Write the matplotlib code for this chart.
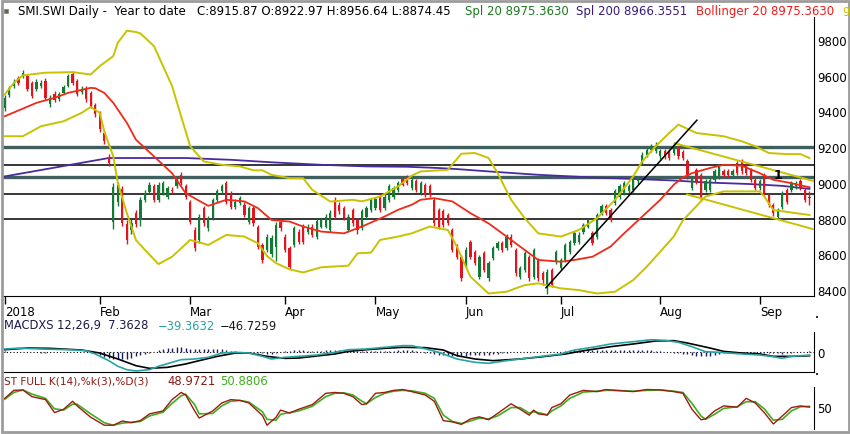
import numpy as np
import matplotlib
matplotlib.use('Agg')
from matplotlib import pyplot as plt
from matplotlib.patches import Rectangle

# ---- data (trading-day index 0 = 3 Jan 2018) ----
opens = [
    9420, 9490, 9545, 9588, 9598, 9600, 9558, 9528, 9540, 9570,
    9440, 9500, 9470, 9505, 9545, 9612, 9570, 9508, 9532, 9504,
    9436, 9390, 9280, 9140, 8780, 8890, 8968, 8772, 8735, 8830,
    8790, 8905, 8950, 8983, 8905, 8942, 8923, 8962, 8980, 9045,
    8980, 8895, 8736, 8680, 8858, 8745, 8802, 8905, 8952, 8998,
    8942, 8867, 8886, 8877, 8783, 8858, 8755, 8652, 8624, 8600,
    8640, 8783, 8699, 8633, 8652, 8727, 8755, 8727, 8755, 8699,
    8755, 8755, 8736, 8905, 8877, 8858, 8736, 8848, 8792, 8745,
    8811, 8848, 8858, 8923, 8858, 8905, 8923, 8960, 9022, 9030,
    8970, 9008, 8942, 8989, 8983, 8905, 8848, 8840, 8820, 8736,
    8643, 8586, 8540, 8670, 8614, 8474, 8605, 8465, 8577, 8633,
    8661, 8633, 8699, 8624, 8474, 8512, 8586, 8474, 8567, 8493,
    8418, 8510, 8558, 8521, 8568, 8614, 8661, 8670, 8727, 8755,
    8717, 8699, 8833, 8870, 8848, 8886, 8923, 8942, 8952, 8961,
    9008, 9111, 9158, 9186, 9180, 9148, 9176, 9176, 9167, 9195,
    9170, 9120, 8970, 9073, 9045, 8960, 8960, 9017, 9036, 9064,
    9064, 9045, 9111, 9120, 9092, 9073, 9017, 8970, 9045, 8933,
    8877, 8811, 8867, 8961, 8961, 8980, 9008, 8961, 8923]
closes = [
    9475, 9530, 9565, 9560, 9618, 9525, 9488, 9565, 9562, 9478,
    9475, 9466, 9495, 9538, 9597, 9562, 9497, 9526, 9468, 9432,
    9384, 9300, 9233, 9112, 8978, 8988, 8775, 8682, 8775, 8770,
    8905, 8942, 8990, 8905, 8990, 9000, 8970, 8955, 9026, 9000,
    8923, 8783, 8633, 8811, 8773, 8802, 8905, 8952, 8980, 8895,
    8867, 8895, 8914, 8820, 8858, 8773, 8642, 8567, 8699, 8690,
    8765, 8745, 8624, 8530, 8745, 8670, 8670, 8755, 8708, 8787,
    8792, 8811, 8830, 8811, 8840, 8802, 8811, 8773, 8736, 8840,
    8858, 8905, 8910, 8848, 8923, 8983, 8970, 8998, 8990, 9000,
    9017, 8961, 8998, 8933, 8933, 8773, 8755, 8765, 8773, 8624,
    8586, 8465, 8624, 8586, 8549, 8586, 8511, 8549, 8633, 8661,
    8624, 8699, 8652, 8493, 8521, 8605, 8465, 8624, 8465, 8455,
    8502, 8430, 8614, 8568, 8652, 8670, 8717, 8710, 8764, 8792,
    8661, 8820, 8870, 8830, 8792, 8952, 8980, 8998, 8980, 9026,
    9026, 9158, 9186, 9208, 9214, 9176, 9148, 9138, 9214, 9148,
    9138, 9036, 9026, 9008, 8914, 9008, 9017, 9064, 9092, 9045,
    9045, 9064, 9054, 9064, 9054, 9017, 8970, 9008, 8942, 8877,
    8830, 8848, 8942, 8895, 8998, 8998, 8970, 8905, 8916]
highs = [
    9490, 9545, 9580, 9600, 9630, 9610, 9570, 9580, 9575, 9585,
    9490, 9512, 9508, 9550, 9610, 9625, 9582, 9540, 9545, 9515,
    9448, 9400, 9292, 9160, 9000, 9005, 8985, 8790, 8800, 8845,
    8920, 8958, 9005, 8995, 9005, 9012, 8985, 8975, 9040, 9062,
    8992, 8905, 8750, 8825, 8870, 8815, 8915, 8965, 8992, 9010,
    8955, 8910, 8925, 8890, 8870, 8870, 8765, 8665, 8712, 8705,
    8780, 8795, 8712, 8645, 8760, 8740, 8768, 8768, 8768, 8800,
    8805, 8825, 8845, 8920, 8890, 8870, 8825, 8860, 8805, 8852,
    8870, 8915, 8922, 8935, 8935, 8995, 8985, 9010, 9035, 9042,
    9030, 9020, 9010, 9000, 8995, 8915, 8860, 8852, 8832, 8748,
    8655, 8598, 8638, 8682, 8625, 8598, 8618, 8560, 8645, 8672,
    8672, 8712, 8712, 8636, 8533, 8618, 8598, 8636, 8580, 8505,
    8515, 8522, 8626, 8580, 8665, 8682, 8730, 8722, 8776, 8805,
    8730, 8832, 8882, 8882, 8860, 8965, 8992, 9010, 8992, 9038,
    9038, 9170, 9198, 9220, 9226, 9188, 9188, 9188, 9230, 9207,
    9182, 9132, 9038, 9085, 9057, 9020, 9029, 9076, 9104, 9076,
    9076, 9076, 9123, 9132, 9104, 9085, 9029, 9020, 9057, 8945,
    8889, 8860, 8954, 8973, 9010, 9010, 9020, 8973, 8957]
lows = [
    9405, 9480, 9530, 9548, 9585, 9515, 9475, 9515, 9530, 9465,
    9425, 9455, 9458, 9495, 9535, 9550, 9485, 9495, 9455, 9420,
    9370, 9285, 9215, 9095, 8740, 8870, 8760, 8660, 8715, 8755,
    8760, 8890, 8935, 8890, 8895, 8930, 8910, 8940, 8970, 8990,
    8910, 8770, 8620, 8665, 8760, 8730, 8790, 8895, 8940, 8880,
    8855, 8855, 8875, 8808, 8770, 8760, 8630, 8550, 8610, 8585,
    8560, 8732, 8610, 8515, 8640, 8655, 8655, 8715, 8695, 8688,
    8745, 8745, 8725, 8800, 8828, 8790, 8722, 8760, 8715, 8735,
    8800, 8838, 8848, 8838, 8848, 8895, 8912, 8950, 8980, 8990,
    8960, 8950, 8932, 8922, 8922, 8760, 8742, 8752, 8762, 8610,
    8575, 8450, 8528, 8575, 8538, 8462, 8500, 8452, 8565, 8622,
    8612, 8622, 8640, 8480, 8462, 8500, 8452, 8462, 8452, 8430,
    8380, 8415, 8545, 8510, 8555, 8602, 8650, 8660, 8715, 8745,
    8650, 8688, 8822, 8818, 8780, 8875, 8912, 8930, 8940, 8950,
    8996, 9100, 9146, 9175, 9168, 9136, 9136, 9126, 9155, 9136,
    9126, 9024, 8958, 8996, 8900, 8948, 8948, 9005, 9024, 9033,
    9033, 9033, 9042, 9052, 9042, 9005, 8958, 8958, 8930, 8865,
    8815, 8795, 8855, 8883, 8949, 8968, 8958, 8893, 8874]

# month start positions (trading-day index) and their labels
month_idx = [0, 21, 41, 62, 82, 102, 123, 145, 167]
month_labels = ['2018', 'Feb', 'Mar', 'Apr', 'May', 'Jun', 'Jul', 'Aug', 'Sep']

# Bollinger 20 (middle, upper, lower) and Spl 200, read at sample days
ma20_idx = [0, 7, 11, 14, 19, 20, 22, 24, 27, 29, 33, 37, 40, 45, 49, 53, 56, 59, 63, 66,
            70, 75, 79, 84, 87, 90, 92, 95, 99, 103, 107, 111, 115, 118, 123, 126, 130,
            134, 137, 141, 145, 148, 150, 152, 156, 159, 163, 167, 170, 174, 178]
ma20_val = [9373, 9448, 9476, 9504, 9532, 9530, 9504, 9448, 9336, 9242, 9148, 9054, 8942,
            8871, 8905, 8896, 8858, 8792, 8783, 8755, 8727, 8717, 8755, 8811, 8849, 8877,
            8905, 8914, 8896, 8830, 8773, 8699, 8624, 8568, 8558, 8568, 8586, 8643, 8717,
            8811, 8905, 8990, 9030, 9054, 9083, 9101, 9096, 9054, 9017, 8998, 8975]
bb_up_idx = [0, 2, 4, 9, 15, 19, 21, 24, 25, 27, 29, 30, 33, 37, 39, 41, 44, 48, 52, 55,
             57, 59, 63, 66, 68, 72, 77, 79, 83, 87, 90, 92, 98, 101, 104, 107, 109, 112,
             115, 118, 123, 127, 131, 135, 139, 141, 144, 147, 149, 153, 159, 163, 166,
             169, 173, 176, 178]
bb_up_val = [9495, 9560, 9602, 9617, 9620, 9607, 9654, 9710, 9785, 9852, 9845, 9837, 9766,
             9542, 9373, 9205, 9120, 9101, 9092, 9070, 9070, 9045, 9026, 9026, 8961, 8895,
             8905, 8896, 8923, 8980, 9040, 9064, 9073, 9163, 9167, 9139, 9055, 8905, 8802,
             8717, 8699, 8736, 8802, 8905, 9036, 9120, 9205, 9280, 9326, 9279, 9261, 9233,
             9205, 9167, 9161, 9161, 9139]
bb_lo_idx = [0, 4, 8, 13, 17, 19, 21, 22, 24, 25, 27, 29, 31, 34, 37, 41, 45, 49, 53, 56,
             58, 60, 63, 66, 70, 76, 78, 81, 83, 87, 90, 94, 98, 100, 103, 107, 111, 115,
             118, 123, 127, 131, 135, 139, 142, 146, 148, 150, 155, 159, 167, 168, 170,
             175, 178]
bb_lo_val = [9261, 9261, 9317, 9345, 9392, 9425, 9392, 9289, 9148, 8999, 8830, 8680, 8624,
             8545, 8586, 8680, 8652, 8708, 8699, 8661, 8590, 8550, 8515, 8498, 8527, 8536,
             8605, 8609, 8680, 8699, 8717, 8755, 8736, 8643, 8474, 8380, 8390, 8427, 8437,
             8409, 8399, 8380, 8390, 8455, 8530, 8643, 8700, 8790, 8923, 8952, 8952, 8923,
             8848, 8830, 8820]
sma200_idx = [0, 23, 40, 50, 59, 70, 80, 89, 96, 100, 107, 118, 130, 140, 148, 155, 165,
              172, 178]
sma200_val = [9036, 9139, 9139, 9129, 9115, 9101, 9092, 9090, 9083, 9077, 9064, 9045, 9030,
              9021, 9013, 9002, 8993, 8983, 8966]

# horizontal levels and drawn trend lines (day index, price)
levels_thick = [9200, 9030]
levels_thin = [9100, 8935, 8800]
trend_x = [119.7, 153.1]
trend_y = [8412, 9351]
chan_up_x = [148.3, 179.2]
chan_up_y = [9221, 9008]
chan_lo_x = [150.9, 179.2]
chan_lo_y = [8935, 8738]

# MACD 12,26,9
macd_idx = [0, 3, 8, 14, 18, 20, 23, 25, 27, 29, 32, 34, 37, 39, 42, 45, 48, 51, 54, 57,
            59, 62, 65, 69, 73, 76, 80, 84, 88, 90, 93, 96, 100, 104, 107, 111, 117, 123,
            126, 130, 134, 139, 143, 146, 149, 152, 155, 158, 163, 167, 170, 172, 174, 178]
macd_val = [38, 48, 38, 29, 16, -25, -109, -180, -223, -239, -223, -180, -130, -97, -88,
            -67, -13, -4, -13, -55, -88, -67, -55, -38, -4, 29, 38, 59, 80, 80, 40, -4, -88,
            -130, -143, -109, -67, -25, 25, 59, 101, 130, 155, 147, 122, 67, 4, -4, -25,
            -38, -59, -80, -55, -39]
sig_idx = [0, 5, 10, 17, 21, 25, 29, 32, 36, 40, 43, 47, 51, 54, 58, 62, 65, 73, 76, 80,
           84, 88, 93, 97, 100, 104, 108, 114, 119, 124, 128, 134, 139, 144, 148, 151, 156,
           159, 163, 167, 170, 174, 178]
sig_val = [29, 50, 46, 25, -13, -88, -172, -206, -193, -151, -109, -55, -13, -13, -55, -80,
           -76, -25, 8, 29, 46, 59, 55, 25, -46, -88, -109, -88, -59, -25, 16, 67, 101, 139,
           143, 113, 50, 8, -13, -25, -55, -55, -47]
hist = [
    9, 6, 3,
    0, 0, -2, -4, -6, -8, -8, -6, -3, 0, 2, 4, 4, 3, 0,
    -4, -8, -15, -35,
    -69, -80, -90, -92, -88, -83, -72, -54, -40, -25,
    -17, 0, 20, 35, 48, 55, 57, 58, 50, 42,
    37, 35, 33, 33, 32, 32, 32, 25, 18, 9,
    5, 2, 0, -6, -12, -15, -22, -28, -10, 5,
    13, 16, 19, 21, 20, 18, 17, 17, 18, 19,
    20, 21, 22, 23, 24, 20, 15, 10, 9, 10,
    11, 12, 13, 15, 17, 19, 21, 20, 20, 12,
    2, -8, -15, -25, -34, -40, -44, -46, -48, -47,
    -45, -43, -42, -40, -38, -35, -30, -24, -16, -9,
    -5, -2, 0, 2, 3, 3, 2, 0, -3, -5,
    -2, 5, 14, 22, 30, 30, 29, 29, 29, 30,
    30, 31, 31, 31, 30, 30, 29, 29, 27, 25,
    22, 20, 14, 9, 4, -2, -8, -13, -22, -30,
    -38, -45, -50, -56, -45, -32, -24, -18, -14, -12,
    -12, -12, -12, -13, -13, -13, -12, -10, -7, -12,
    -25, -18, -10, -4, 0,
    4, 7]

# Full stochastic K(14),%k(3),%D(3)
sto_idx = [0, 2, 4, 6, 9, 11, 13, 15, 16, 19, 22, 24, 26, 28, 30, 32, 35, 37, 39, 40,
           42, 43, 46, 48, 50, 52, 54, 57, 58, 60, 61, 63, 65, 68, 71, 73, 75, 77, 79, 80,
           82, 84, 86, 88, 90, 93, 95, 97, 99, 101, 103, 105, 107, 109, 112, 114, 116, 117,
           118, 120, 121, 123, 125, 128, 131, 133, 135, 139, 142, 145, 148, 150, 152, 154,
           155, 157, 159, 162, 164, 166, 168, 170, 172, 174, 176, 178]
sto_k = [70, 89, 90, 74, 67, 36, 44, 63, 52, 25, 6, 6, 16, 12, 17, 33, 40, 67, 84, 78,
         40, 23, 40, 59, 67, 65, 59, 29, 6, 25, 42, 35, 44, 55, 82, 84, 82, 74, 55, 57,
         82, 84, 89, 91, 86, 78, 63, 17, 14, 8, 21, 26, 19, 34, 57, 44, 30, 42, 33, 30,
         48, 57, 78, 89, 86, 91, 89, 86, 91, 90, 86, 82, 44, 19, 21, 40, 52, 49, 70, 59,
         36, 9, 28, 48, 52, 49]
sto_d = [68, 84, 90, 80, 70, 45, 42, 56, 56, 33, 12, 6, 11, 13, 15, 28, 37, 58, 76, 80,
         55, 33, 34, 52, 63, 65, 61, 38, 20, 18, 32, 36, 40, 51, 74, 82, 83, 78, 63, 57,
         72, 82, 87, 89, 88, 82, 70, 30, 15, 10, 16, 23, 21, 28, 48, 48, 35, 38, 36, 31,
         40, 52, 70, 85, 87, 89, 89, 87, 89, 90, 87, 84, 58, 28, 20, 32, 46, 50, 62, 62,
         45, 18, 20, 40, 50, 51]

# ---- figure in pixel units ----
W, H = 850, 435
fig = plt.figure(figsize=(W / 100, H / 100), dpi=100)
fig.patch.set_facecolor('white')
plt.rcParams['font.family'] = ['DejaVu Sans']

def px_axes(x0, y0, x1, y1):
    return fig.add_axes([x0 / W, 1 - y1 / H, (x1 - x0) / W, (y1 - y0) / H])

FS = 8.5
UP, DOWN = '#137a35', '#e3141b'
BB = '#c9c200'

# price panel
ax = px_axes(3, 18, 814, 297)
x = np.arange(len(closes))
o = np.array(opens); c = np.array(closes)
cols = np.where(c >= o, UP, DOWN)
for lv in levels_thick:
    ax.axhline(lv, color='#3f5f5f', lw=2.4, zorder=1)
for lv in levels_thin:
    ax.axhline(lv, color='black', lw=1.1, zorder=1)
ax.plot(sma200_idx, sma200_val, color='#4a2aa0', lw=1.3, zorder=2)
ax.vlines(x, lows, highs, colors=cols, lw=1, zorder=3)
body = np.maximum(np.abs(c - o), 4)
ax.bar(x, body, bottom=np.minimum(o, c), width=0.5, color=cols, zorder=3)
ax.plot(bb_up_idx, bb_up_val, color=BB, lw=1.4, zorder=4)
ax.plot(bb_lo_idx, bb_lo_val, color=BB, lw=1.4, zorder=4)
ax.plot(ma20_idx, ma20_val, color='#ee2a1a', lw=1.3, zorder=4)
ax.plot(chan_up_x, chan_up_y, color=BB, lw=1.4, zorder=5)
ax.plot(chan_lo_x, chan_lo_y, color=BB, lw=1.4, zorder=5)
ax.plot(trend_x, trend_y, color='black', lw=1.1, zorder=5)
ax.text(171, 9047, '1', fontsize=9, fontweight='bold', ha='center', va='center', zorder=6)

ax.set_xlim(-0.4, 179.0)
ax.set_ylim(8366, 9929)
ax.yaxis.tick_right()
ax.set_yticks(range(8400, 9801, 200))
ax.tick_params(axis='y', length=0, pad=2.5, labelsize=FS)
ax.set_xticks(month_idx)
ax.set_xticklabels(month_labels)
ax.tick_params(axis='x', direction='out', length=6, width=1, pad=0.5, labelsize=FS)
for lbl in ax.get_xticklabels():
    lbl.set_ha('left')
for s in ['top', 'left']:
    ax.spines[s].set_visible(False)

# MACD panel
am = px_axes(3, 333, 814, 373)
am.axhline(0, color='black', lw=0.8, ls=(0, (1, 2)))
am.vlines(np.arange(len(hist)), 0, hist, colors='#1c1c5c', lw=1)
am.plot(sig_idx, sig_val, color='black', lw=1.2)
am.plot(macd_idx, macd_val, color='#27a3a3', lw=1.2)
am.set_xlim(-0.4, 179.0)
am.set_ylim(-252, 252)
am.yaxis.tick_right()
am.set_yticks([0])
am.tick_params(axis='y', length=0, pad=2.5, labelsize=FS)
am.set_xticks([])
for s in ['top', 'left']:
    am.spines[s].set_visible(False)

# stochastic panel
ast = px_axes(3, 388, 814, 430)
ast.plot(sto_idx, sto_d, color='#3fae1f', lw=1.2)
ast.plot(sto_idx, sto_k, color='#9b1c12', lw=1.0)
ast.set_xlim(-0.4, 179.0)
ast.set_ylim(-3, 97)
ast.yaxis.tick_right()
ast.set_yticks([50])
ast.tick_params(axis='y', length=0, pad=2.5, labelsize=FS)
ast.set_xticks([])
for s in ['top', 'left', 'bottom']:
    ast.spines[s].set_visible(False)

# header texts
def ftext(px, py, s, color, size=FS):
    fig.text(px / W, 1 - py / H, s, color=color, fontsize=size, va='center', ha='left')

ftext(18, 12, 'SMI.SWI Daily -  Year to date   C:8915.87 O:8922.97 H:8956.64 L:8874.45', 'black')
ftext(465, 12, 'Spl 20 8975.3630', '#1d7a1d')
ftext(576, 12, 'Spl 200 8966.3551', '#3a1a80')
ftext(696, 12, 'Bollinger 20 8975.3630', '#f01a1a')
ftext(842, 12, '9', BB)
ftext(4, 326, 'MACDXS 12,26,9  7.3628', '#1a1a4a', 8.3)
ftext(158, 326, '\u221239.3632', '#27a3a3', 8.3)
ftext(220, 326, '\u221246.7259', '#1a1a1a', 8.3)
ftext(4, 382, 'ST FULL K(14),%k(3),%D(3)', '#8b1a12', 7.6)
ftext(167, 382, '48.9721', '#8b1a12', 8.4)
ftext(220, 382, '50.8806', '#3fae1f', 8.4)

# small marks at the MACD scale ends
for py in (318, 375):
    fig.add_artist(Rectangle((816 / W, 1 - (py + 1) / H), 2 / W, 2 / H,
                             transform=fig.transFigure, fc='#333333', ec='none'))
fig.add_artist(Rectangle((4 / W, 1 - 14 / H), 4 / W, 4 / H, transform=fig.transFigure,
                         fc='#5a6a3a', ec='#8a8a8a', lw=0.6))
fig.add_artist(Rectangle((1.5 / W, 2 / H), (W - 3) / W, (H - 3.5) / H,
                         transform=fig.transFigure, fill=False, ec='#9c9c9c', lw=2))

fig.savefig('out.png', dpi=100)
